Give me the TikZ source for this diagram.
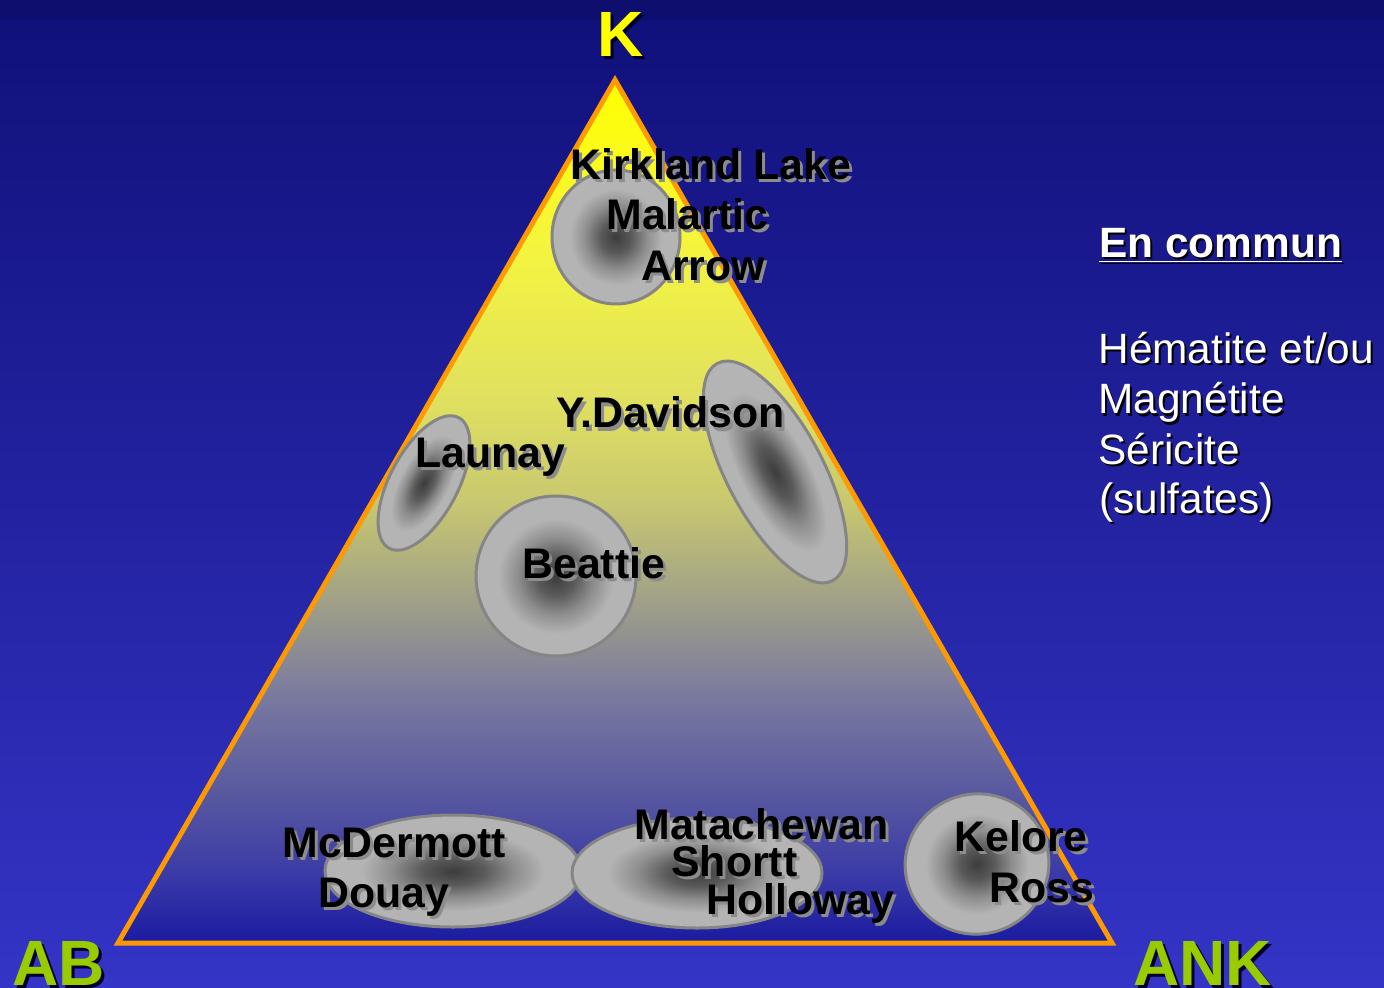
\documentclass[tikz,border=0pt]{standalone}
\usepackage{fontspec}
\setmainfont{Liberation Sans}
\definecolor{bgtop}{HTML}{10107A}
\definecolor{bgbot}{HTML}{3434C6}
\definecolor{edgeor}{HTML}{FF9900}
\definecolor{t0}{HTML}{1A1AA0}
\definecolor{t1}{HTML}{3838A8}
\definecolor{t2}{HTML}{5656A0}
\definecolor{t3}{HTML}{7878A0}
\definecolor{t4}{HTML}{A0A088}
\definecolor{t5}{HTML}{C8C870}
\definecolor{t6}{HTML}{E0E060}
\definecolor{t7}{HTML}{F4F440}
\definecolor{t8}{HTML}{FFFF00}
\definecolor{b0}{HTML}{3C3C3C}
\definecolor{b1}{HTML}{5A5A5A}
\definecolor{b2}{HTML}{8E8E8E}
\definecolor{b3}{HTML}{B4B4B4}
\definecolor{rimgray}{HTML}{858585}
\definecolor{shgray}{HTML}{8C8C8C}
\definecolor{kyellow}{HTML}{FFFF00}
\definecolor{abgreen}{HTML}{99CC00}
\pgfdeclareverticalshading{trishade}{100bp}{color(0bp)=(t0); color(25bp)=(t0); color(28.65bp)=(t1); color(33.3bp)=(t2); color(39.1bp)=(t3); color(44.85bp)=(t4); color(50.65bp)=(t5); color(56.45bp)=(t6); color(65.15bp)=(t7); color(75bp)=(t8); color(100bp)=(t8)}
\pgfdeclareradialshading{blob}{\pgfpoint{0bp}{0bp}}{color(0bp)=(b0); color(6bp)=(b1); color(12bp)=(b2); color(18bp)=(b3); color(25bp)=(b3); color(50bp)=(b3)}
\tikzset{
  lbl/.style={font=\fontsize{21.4}{25}\selectfont\bfseries, text=black, inner sep=0pt, anchor=base west},
  lblsh/.style={lbl, text=shgray, xshift=1.5pt, yshift=-1.5pt},
  side/.style={font=\fontsize{21.2}{25}\selectfont, text=white, inner sep=0pt, anchor=base west},
  sidesh/.style={side, text=black, xshift=1pt, yshift=-1pt},
  corner/.style={font=\fontsize{32}{36}\selectfont\bfseries, inner sep=0pt},
  cornersh/.style={corner, text=black!85!blue, xshift=1.5pt, yshift=-1.5pt},
  blobstyle/.style={shading=blob, draw=rimgray, line width=1.5pt},
}
\newcommand\shtext[5]{\node[#4] at (#2) {#5};\node[#3] (#1) at (#2) {#5};}
\begin{document}
\begin{tikzpicture}[x=0.5pt,y=-0.5pt]
\useasboundingbox (0,0) rectangle (1384,988);
% background
\shade[top color=bgtop, bottom color=bgbot] (0,0) rectangle (1384,988);
\fill[bgtop!90!black] (0,0) rectangle (1384,20);
% triangle
\coordinate (apex) at (615,80);
\coordinate (bl) at (118,943);
\coordinate (br) at (1112,943);
\shade[shading=trishade] (apex) -- (br) -- (bl) -- cycle;
\draw[edgeor, line width=2.5pt, line join=miter] (apex) -- (br) -- (bl) -- cycle;
% blobs
\shade[blobstyle] (616,237) ellipse (64 and 67);
\begin{scope}[transform canvas={shift={(424,483)},rotate=62}]
\shade[blobstyle] (0,0) ellipse (74 and 34);
\end{scope}
\begin{scope}[transform canvas={shift={(775,472)},rotate=-62}]
\shade[blobstyle] (0,0) ellipse (123 and 48);
\end{scope}
\shade[blobstyle] (556,576) circle (80);
\shade[blobstyle] (453,871) ellipse (128 and 56);
\shade[blobstyle] (697,873) ellipse (125 and 55);
\begin{scope}[transform canvas={shift={(977,864)},rotate=-75}]
\shade[blobstyle] (0,0) ellipse (70 and 72);
\end{scope}
% labels
\shtext{kl}{570,180}{lbl}{lblsh}{Kirkland Lake}
\shtext{ma}{606,230}{lbl}{lblsh}{Malartic}
\shtext{ar}{641,281}{lbl}{lblsh}{Arrow}
\shtext{yd}{556,428}{lbl}{lblsh}{Y.Davidson}
\shtext{la}{415,467}{lbl}{lblsh}{Launay}
\shtext{be}{522,578}{lbl}{lblsh}{Beattie}
\shtext{mc}{282,857}{lbl}{lblsh}{McDermott}
\shtext{do}{318,907}{lbl}{lblsh}{Douay}
\shtext{mt}{634,839}{lbl}{lblsh}{Matachewan}
\shtext{sh}{671,876}{lbl}{lblsh}{Shortt}
\shtext{ho}{706,914}{lbl}{lblsh}{Holloway}
\shtext{ke}{954,851}{lbl}{lblsh}{Kelore}
\shtext{ro}{989,902}{lbl}{lblsh}{Ross}
% side text
\shtext{en}{1099,258}{side,font=\fontsize{21.2}{25}\selectfont\bfseries}{sidesh,font=\fontsize{21.2}{25}\selectfont\bfseries}{\underline{En commun}}
\shtext{he}{1098,364}{side}{sidesh}{Hématite et/ou}
\shtext{mg}{1098,414}{side}{sidesh}{Magnétite}
\shtext{se}{1098,464}{side}{sidesh}{Séricite}
\shtext{su}{1099,513}{side}{sidesh}{(sulfates)}
% corners
\shtext{k}{621,57}{corner,text=kyellow,anchor=base}{cornersh,anchor=base}{K}
\shtext{ab}{12,985}{corner,text=abgreen,anchor=base west}{cornersh,anchor=base west}{AB}
\shtext{ank}{1133,985}{corner,text=abgreen,anchor=base west}{cornersh,anchor=base west}{ANK}
\end{tikzpicture}
\end{document}
